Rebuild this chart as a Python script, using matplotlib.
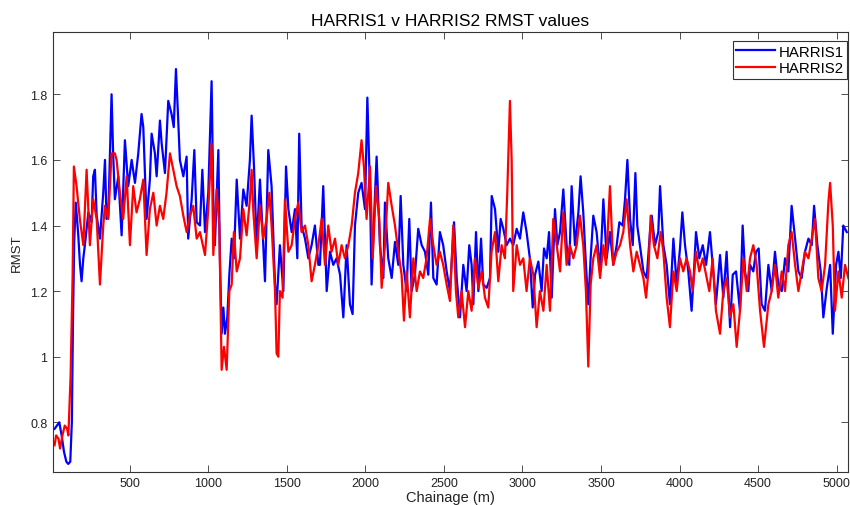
import matplotlib
matplotlib.use("Agg")
import matplotlib.pyplot as plt

plt.rcParams['font.family'] = ['Liberation Sans', 'DejaVu Sans']

# HARRIS1 (blue) - chainage (m) and RMST
h1_chainage = [
    20, 35, 50, 65, 80, 95, 107, 120, 130, 137,
    145, 155, 171, 182, 192, 203, 213, 235, 256, 266,
    277, 288, 309, 330, 341, 351, 362, 383, 393, 404,
    426, 447, 468, 489, 511, 532, 553, 574, 585, 606,
    627, 638, 659, 670, 691, 702, 723, 744, 765, 779,
    793, 804, 818, 840, 861, 871, 893, 910, 925, 946,
    961, 978, 999, 1020, 1031, 1041, 1063, 1073, 1084, 1095,
    1105, 1120, 1133, 1148, 1162, 1180, 1201, 1222, 1243, 1264,
    1275, 1290, 1307, 1328, 1345, 1360, 1381, 1402, 1424, 1434,
    1455, 1477, 1494, 1509, 1530, 1551, 1566, 1578, 1593, 1615,
    1636, 1657, 1678, 1700, 1710, 1731, 1753, 1774, 1795, 1816,
    1838, 1859, 1880, 1901, 1918, 1933, 1954, 1975, 1997, 2012,
    2029, 2039, 2061, 2071, 2092, 2114, 2124, 2145, 2167, 2188,
    2209, 2224, 2241, 2262, 2279, 2294, 2315, 2336, 2358, 2379,
    2400, 2417, 2432, 2453, 2474, 2495, 2517, 2538, 2564, 2581,
    2602, 2623, 2644, 2661, 2676, 2687, 2704, 2719, 2736, 2750,
    2772, 2793, 2804, 2825, 2846, 2861, 2878, 2899, 2920, 2941,
    2963, 2984, 3005, 3026, 3047, 3065, 3080, 3101, 3122, 3137,
    3154, 3169, 3186, 3207, 3222, 3239, 3260, 3281, 3298, 3313,
    3334, 3356, 3370, 3387, 3404, 3419, 3434, 3451, 3472, 3494,
    3515, 3536, 3557, 3578, 3600, 3617, 3638, 3653, 3668, 3685,
    3702, 3719, 3731, 3748, 3770, 3791, 3812, 3823, 3844, 3865,
    3876, 3897, 3918, 3939, 3961, 3982, 4003, 4018, 4035, 4056,
    4077, 4092, 4105, 4126, 4148, 4169, 4194, 4211, 4232, 4258,
    4279, 4300, 4322, 4339, 4360, 4385, 4402, 4417, 4438, 4449,
    4470, 4487, 4504, 4523, 4544, 4566, 4587, 4608, 4629, 4651,
    4672, 4693, 4714, 4736, 4757, 4778, 4799, 4821, 4842, 4857,
    4878, 4899, 4916, 4938, 4959, 4976, 4997, 5012, 5027, 5043,
    5065,
]
h1_rmst = [
    0.78, 0.79, 0.80, 0.76, 0.71, 0.68, 0.673, 0.68, 0.80, 1.10,
    1.35, 1.47, 1.37, 1.28, 1.23, 1.30, 1.34, 1.44, 1.41, 1.55,
    1.57, 1.43, 1.36, 1.50, 1.60, 1.42, 1.43, 1.80, 1.62, 1.48,
    1.55, 1.37, 1.66, 1.52, 1.60, 1.53, 1.62, 1.74, 1.70, 1.42,
    1.54, 1.68, 1.62, 1.55, 1.72, 1.65, 1.56, 1.78, 1.74, 1.70,
    1.877, 1.76, 1.60, 1.55, 1.61, 1.36, 1.48, 1.63, 1.41, 1.40,
    1.57, 1.38, 1.50, 1.84, 1.48, 1.34, 1.63, 1.30, 1.07, 1.15,
    1.07, 1.12, 1.25, 1.36, 1.30, 1.54, 1.36, 1.51, 1.46, 1.60,
    1.735, 1.58, 1.34, 1.54, 1.38, 1.23, 1.63, 1.52, 1.22, 1.16,
    1.34, 1.20, 1.58, 1.45, 1.38, 1.45, 1.30, 1.68, 1.40, 1.36,
    1.30, 1.34, 1.40, 1.28, 1.28, 1.52, 1.20, 1.32, 1.28, 1.30,
    1.25, 1.12, 1.34, 1.16, 1.13, 1.40, 1.50, 1.53, 1.45, 1.79,
    1.50, 1.22, 1.50, 1.61, 1.34, 1.24, 1.47, 1.30, 1.24, 1.35,
    1.28, 1.49, 1.28, 1.20, 1.42, 1.20, 1.25, 1.39, 1.34, 1.32,
    1.25, 1.47, 1.24, 1.22, 1.38, 1.34, 1.26, 1.20, 1.41, 1.24,
    1.12, 1.28, 1.20, 1.34, 1.28, 1.16, 1.38, 1.20, 1.36, 1.22,
    1.21, 1.24, 1.49, 1.45, 1.32, 1.42, 1.39, 1.34, 1.36, 1.34,
    1.39, 1.36, 1.44, 1.38, 1.30, 1.15, 1.25, 1.29, 1.20, 1.33,
    1.30, 1.38, 1.18, 1.45, 1.34, 1.38, 1.51, 1.34, 1.28, 1.52,
    1.34, 1.44, 1.55, 1.44, 1.28, 1.16, 1.30, 1.43, 1.38, 1.26,
    1.48, 1.30, 1.38, 1.28, 1.34, 1.41, 1.40, 1.48, 1.60, 1.42,
    1.34, 1.56, 1.40, 1.34, 1.26, 1.24, 1.38, 1.43, 1.34, 1.38,
    1.52, 1.34, 1.28, 1.16, 1.36, 1.22, 1.33, 1.44, 1.34, 1.26,
    1.14, 1.26, 1.38, 1.30, 1.34, 1.28, 1.38, 1.28, 1.16, 1.31,
    1.18, 1.32, 1.09, 1.25, 1.26, 1.14, 1.40, 1.26, 1.20, 1.28,
    1.26, 1.32, 1.33, 1.16, 1.14, 1.28, 1.20, 1.32, 1.22, 1.20,
    1.30, 1.26, 1.46, 1.36, 1.26, 1.24, 1.32, 1.36, 1.34, 1.46,
    1.34, 1.26, 1.12, 1.21, 1.28, 1.07, 1.28, 1.32, 1.24, 1.40,
    1.38,
]

# HARRIS2 (red)
h2_chainage = [
    20, 30, 45, 55, 70, 85, 100, 108, 122, 135,
    143, 160, 181, 203, 224, 245, 266, 288, 309, 330,
    341, 362, 383, 404, 415, 436, 457, 479, 500, 521,
    542, 563, 585, 606, 627, 649, 670, 691, 712, 733,
    755, 776, 797, 818, 840, 861, 882, 903, 925, 946,
    978, 999, 1020, 1031, 1052, 1069, 1084, 1099, 1116, 1133,
    1148, 1162, 1180, 1201, 1222, 1243, 1264, 1275, 1286, 1307,
    1328, 1349, 1370, 1388, 1402, 1424, 1434, 1445, 1455, 1472,
    1487, 1509, 1530, 1551, 1572, 1593, 1615, 1636, 1657, 1678,
    1700, 1721, 1742, 1763, 1784, 1806, 1827, 1848, 1869, 1891,
    1912, 1933, 1954, 1975, 1990, 2007, 2029, 2046, 2067, 2088,
    2103, 2124, 2145, 2167, 2188, 2209, 2230, 2245, 2262, 2283,
    2305, 2326, 2347, 2368, 2389, 2411, 2432, 2453, 2474, 2495,
    2517, 2538, 2559, 2576, 2591, 2612, 2634, 2655, 2676, 2697,
    2719, 2740, 2761, 2782, 2803, 2825, 2846, 2867, 2888, 2903,
    2920, 2931, 2941, 2963, 2984, 3005, 3026, 3047, 3069, 3090,
    3111, 3133, 3154, 3175, 3196, 3218, 3239, 3260, 3281, 3302,
    3324, 3345, 3366, 3387, 3404, 3419, 3434, 3451, 3472, 3494,
    3515, 3532, 3557, 3578, 3600, 3621, 3642, 3663, 3685, 3706,
    3727, 3748, 3770, 3787, 3802, 3816, 3837, 3859, 3880, 3897,
    3918, 3939, 3961, 3982, 4003, 4024, 4045, 4067, 4084, 4105,
    4126, 4148, 4169, 4190, 4211, 4232, 4258, 4279, 4300, 4322,
    4343, 4364, 4385, 4407, 4428, 4449, 4470, 4491, 4513, 4538,
    4566, 4587, 4608, 4629, 4651, 4672, 4693, 4714, 4736, 4757,
    4778, 4799, 4821, 4842, 4863, 4884, 4905, 4927, 4948, 4959,
    4976, 4990, 5012, 5033, 5054, 5075,
]
h2_rmst = [
    0.73, 0.76, 0.75, 0.72, 0.76, 0.79, 0.78, 0.76, 0.94, 1.25,
    1.58, 1.52, 1.42, 1.34, 1.57, 1.34, 1.48, 1.42, 1.22, 1.40,
    1.46, 1.42, 1.62, 1.62, 1.60, 1.50, 1.42, 1.55, 1.34, 1.52,
    1.44, 1.48, 1.54, 1.31, 1.45, 1.50, 1.40, 1.46, 1.42, 1.50,
    1.62, 1.57, 1.52, 1.49, 1.43, 1.38, 1.43, 1.46, 1.36, 1.38,
    1.31, 1.45, 1.65, 1.31, 1.51, 1.40, 0.96, 1.03, 0.96, 1.20,
    1.22, 1.38, 1.26, 1.30, 1.45, 1.37, 1.48, 1.57, 1.44, 1.30,
    1.46, 1.36, 1.42, 1.50, 1.40, 1.20, 1.01, 1.00, 1.20, 1.18,
    1.48, 1.32, 1.34, 1.42, 1.47, 1.38, 1.40, 1.34, 1.23, 1.28,
    1.34, 1.42, 1.28, 1.40, 1.32, 1.36, 1.28, 1.34, 1.30, 1.34,
    1.40, 1.50, 1.56, 1.66, 1.58, 1.42, 1.58, 1.30, 1.52, 1.42,
    1.21, 1.34, 1.53, 1.46, 1.40, 1.32, 1.25, 1.11, 1.26, 1.12,
    1.30, 1.20, 1.26, 1.24, 1.30, 1.42, 1.34, 1.28, 1.32, 1.28,
    1.22, 1.17, 1.40, 1.20, 1.12, 1.20, 1.09, 1.20, 1.14, 1.30,
    1.21, 1.26, 1.18, 1.15, 1.32, 1.38, 1.23, 1.34, 1.30, 1.50,
    1.78, 1.60, 1.20, 1.34, 1.28, 1.30, 1.20, 1.30, 1.25, 1.09,
    1.20, 1.14, 1.28, 1.14, 1.42, 1.34, 1.26, 1.44, 1.28, 1.34,
    1.30, 1.34, 1.43, 1.34, 1.20, 0.97, 1.22, 1.30, 1.34, 1.24,
    1.34, 1.28, 1.52, 1.28, 1.32, 1.34, 1.38, 1.48, 1.34, 1.26,
    1.32, 1.28, 1.24, 1.18, 1.26, 1.43, 1.34, 1.30, 1.38, 1.32,
    1.18, 1.09, 1.26, 1.20, 1.30, 1.26, 1.30, 1.26, 1.20, 1.32,
    1.26, 1.30, 1.25, 1.20, 1.30, 1.14, 1.07, 1.20, 1.24, 1.12,
    1.16, 1.03, 1.14, 1.30, 1.20, 1.30, 1.34, 1.28, 1.14, 1.03,
    1.16, 1.20, 1.28, 1.18, 1.26, 1.20, 1.34, 1.38, 1.28, 1.20,
    1.26, 1.32, 1.30, 1.36, 1.42, 1.24, 1.20, 1.28, 1.47, 1.53,
    1.40, 1.14, 1.26, 1.18, 1.28, 1.24,
]

x_ticks = [500, 1000, 1500, 2000, 2500, 3000, 3500, 4000, 4500, 5000]
y_ticks = [0.8, 1.0, 1.2, 1.4, 1.6, 1.8]

fig = plt.figure(figsize=(8.5, 5.06), dpi=100)
ax = fig.add_axes([53 / 850, 1 - 472.5 / 506, 795 / 850, 439.5 / 506])

ax.plot(h1_chainage, h1_rmst, color=(0, 0, 1), lw=1.6, label='HARRIS1')
ax.plot(h2_chainage, h2_rmst, color=(1, 0, 0), lw=1.6, label='HARRIS2')

ax.set_xlim(10, 5073)
ax.set_ylim(0.65, 1.99)
ax.set_xticks(x_ticks)
ax.set_yticks(y_ticks)
ax.set_yticklabels(['%g' % v for v in y_ticks])
ax.tick_params(direction='in', top=True, right=True, length=5, width=0.6,
               labelsize=9, pad=4, color='#333333', labelcolor='#222222')
for s in ax.spines.values():
    s.set_linewidth(0.8)
    s.set_color('#333333')

ax.set_title('HARRIS1 v HARRIS2 RMST values', fontsize=12.5, pad=5)
ax.set_xlabel('Chainage (m)', fontsize=10.5, labelpad=1, color='#222222')
ax.set_ylabel('RMST', fontsize=9.5, labelpad=5, color='#222222')

leg = ax.legend(loc='upper right', bbox_to_anchor=(0.999, 0.98), borderaxespad=0,
                fontsize=10.8, fancybox=False, edgecolor='#333333', framealpha=1,
                handlelength=2.6, borderpad=0.25, labelspacing=0.15, handletextpad=0.2)
leg.get_frame().set_linewidth(0.8)

fig.savefig('out.png', dpi=100)
